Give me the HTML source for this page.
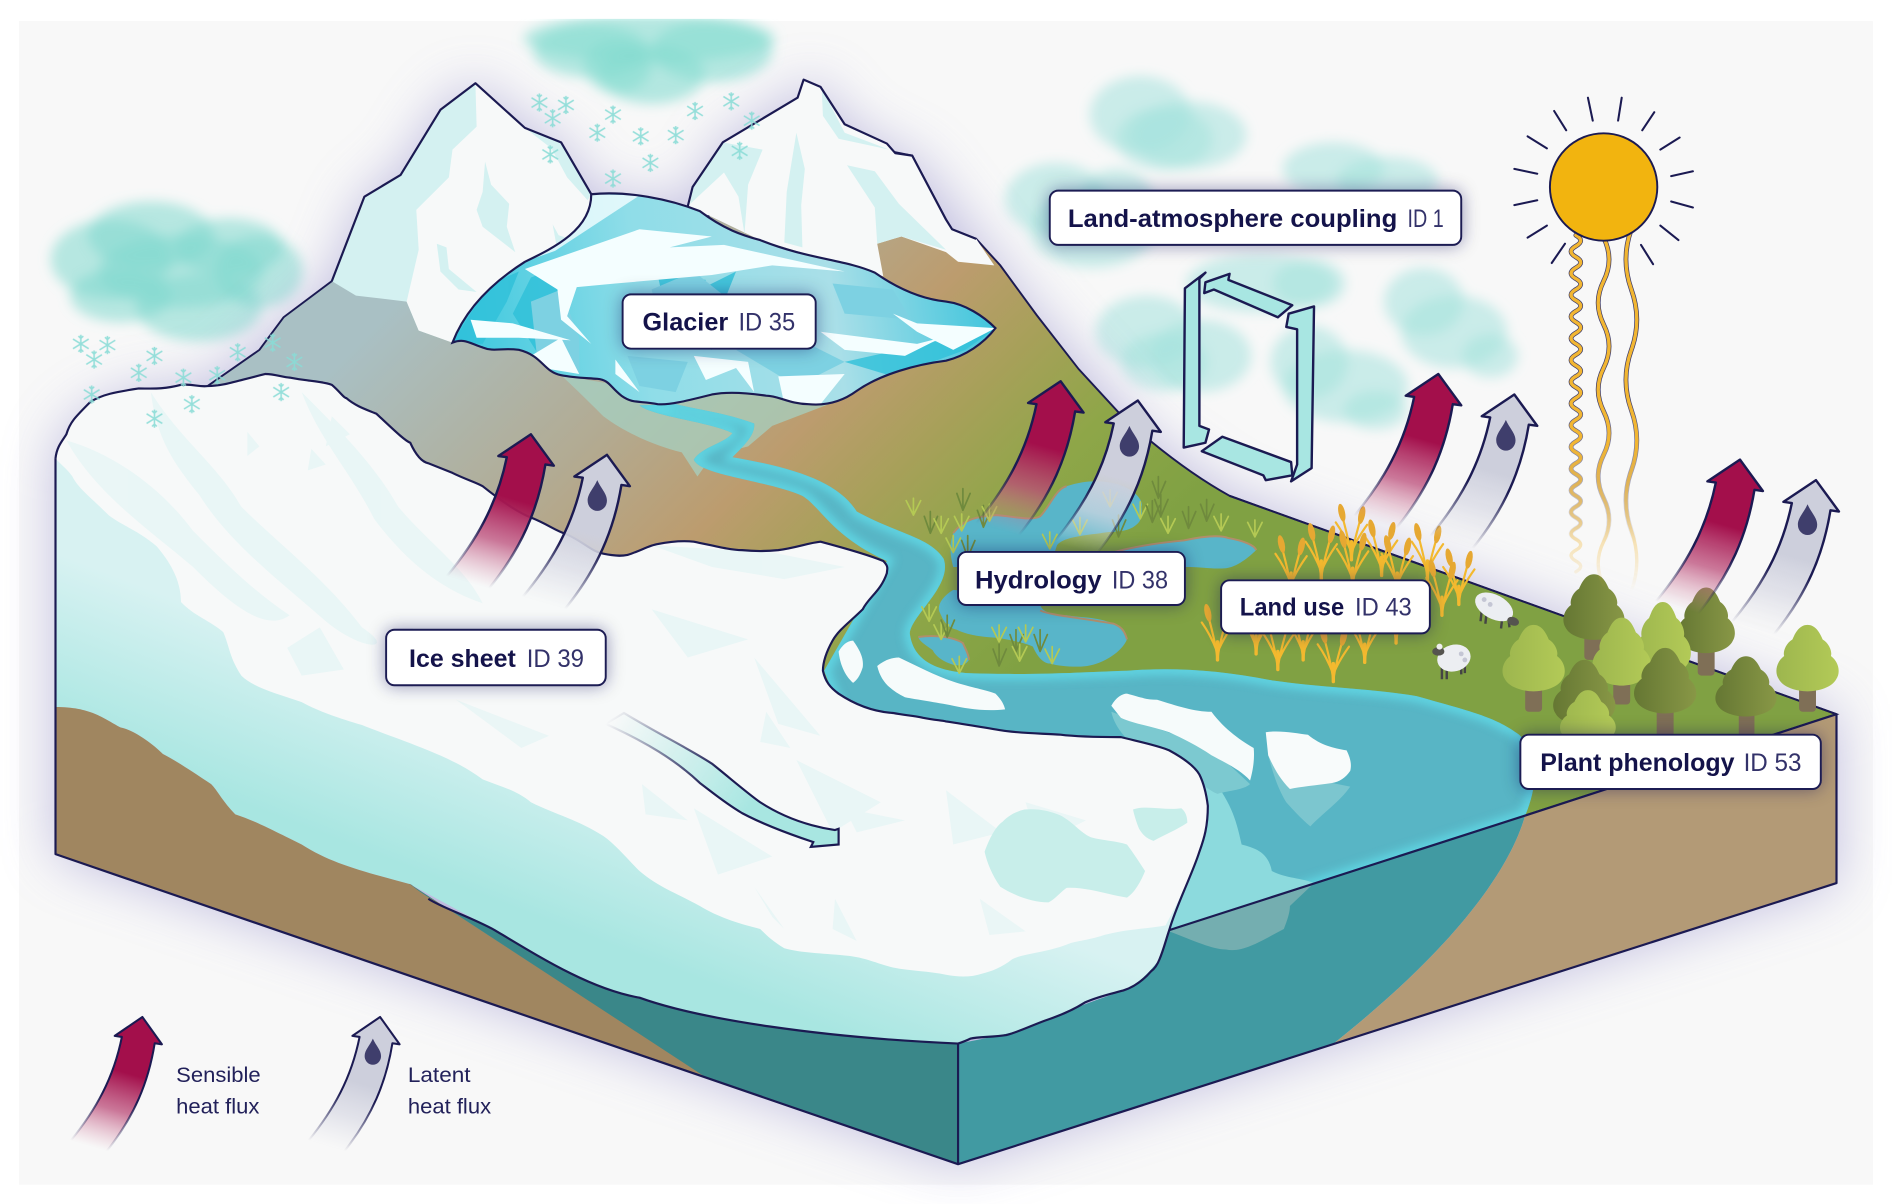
<!DOCTYPE html>
<html><head><meta charset="utf-8"><style>html,body{margin:0;padding:0;background:#fff}svg{display:block}</style></head><body>
<svg xmlns="http://www.w3.org/2000/svg" width="1892" height="1204" viewBox="0 0 1568 998" preserveAspectRatio="none" font-family="'Liberation Sans',sans-serif">
<defs>
<filter id="b22" x="-30%" y="-30%" width="160%" height="160%"><feGaussianBlur stdDeviation="22"/></filter>
<filter id="b5" x="-30%" y="-30%" width="160%" height="160%"><feGaussianBlur stdDeviation="5"/></filter>
<filter id="b4" x="-20%" y="-20%" width="140%" height="140%"><feGaussianBlur stdDeviation="4"/></filter>
<filter id="sh" x="-20%" y="-50%" width="140%" height="200%"><feDropShadow dx="0" dy="0" stdDeviation="7" flood-color="#1b1a52" flood-opacity=".4"/></filter>
<linearGradient id="terr" gradientUnits="userSpaceOnUse" x1="200" y1="200" x2="700" y2="700">
<stop offset=".18" stop-color="#a9c0c4"/><stop offset=".45" stop-color="#b2ab93"/><stop offset=".62" stop-color="#bc9c6e"/><stop offset=".73" stop-color="#a8a05a"/><stop offset=".86" stop-color="#8ea648"/><stop offset="1" stop-color="#80a143"/></linearGradient>
<linearGradient id="iceSide" gradientUnits="userSpaceOnUse" x1="0" y1="440" x2="-50" y2="570"><stop offset="0" stop-color="#d8f2f2"/><stop offset="1" stop-color="#a8e6e1"/></linearGradient>
<linearGradient id="gl" gradientUnits="userSpaceOnUse" x1="375" y1="290" x2="825" y2="230"><stop offset="0" stop-color="#38c7de"/><stop offset=".35" stop-color="#8fdde8"/><stop offset=".7" stop-color="#a9dfe8"/><stop offset="1" stop-color="#3cc4dc"/></linearGradient>
<linearGradient id="redG" gradientUnits="userSpaceOnUse" x1="0" y1="0" x2="-36.400" y2="127.200"><stop offset=".42" stop-color="#a30f4b"/><stop offset=".7" stop-color="#bb4b78" stop-opacity=".75"/><stop offset="1" stop-color="#d58aa6" stop-opacity="0"/></linearGradient>
<linearGradient id="greyG" gradientUnits="userSpaceOnUse" x1="0" y1="0" x2="-36.400" y2="127.200"><stop offset=".5" stop-color="#cdcfdc"/><stop offset=".75" stop-color="#d8d9e4" stop-opacity=".7"/><stop offset="1" stop-color="#dfe0e8" stop-opacity="0"/></linearGradient>
<linearGradient id="strk" gradientUnits="userSpaceOnUse" x1="0" y1="0" x2="-36.400" y2="127.200"><stop offset=".6" stop-color="#1b1a52"/><stop offset="1" stop-color="#1b1a52" stop-opacity="0"/></linearGradient>
<linearGradient id="wav" gradientUnits="userSpaceOnUse" x1="0" y1="370" x2="0" y2="490"><stop offset="0" stop-color="#f2b632"/><stop offset="1" stop-color="#f2b632" stop-opacity="0"/></linearGradient>
<linearGradient id="wavd" gradientUnits="userSpaceOnUse" x1="0" y1="330" x2="0" y2="450"><stop offset="0" stop-color="#1b1a52" stop-opacity=".85"/><stop offset="1" stop-color="#1b1a52" stop-opacity="0"/></linearGradient>
<linearGradient id="flow" gradientUnits="userSpaceOnUse" x1="510" y1="595" x2="620" y2="670"><stop offset="0" stop-color="#a8e6e1" stop-opacity="0"/><stop offset="1" stop-color="#a8e6e1"/></linearGradient>
<linearGradient id="flowS" gradientUnits="userSpaceOnUse" x1="505" y1="595" x2="590" y2="650"><stop offset="0" stop-color="#1b1a52" stop-opacity="0"/><stop offset="1" stop-color="#1b1a52"/></linearGradient>
<linearGradient id="tD"><stop offset="0" stop-color="#657733"/><stop offset="1" stop-color="#889746"/></linearGradient>
<linearGradient id="tL"><stop offset="0" stop-color="#9db64e"/><stop offset="1" stop-color="#b3ca57"/></linearGradient>
<path id="ar" d="M0 0L19 26L12 25C6 62-8 95-35 128L-70 118C-45 88-28 58-20 19L-27 18Z" stroke-width="2" stroke-linejoin="round"/>
<path id="drop" d="M0-13C3-6 8-2 8 4A8 8.500 0 0 1-8 4C-8-2-3-6 0-13Z" fill="#3f3e6c"/>
<g id="fl" stroke="#8adcd6" stroke-width="1.300" fill="none"><path d="M0-7.500V7.500M-6.500-4L6.500 4M6.500-4L-6.500 4M-2-6.500L0-4.500L2-6.500M-2 6.500L0 4.500L2 6.500"/></g>
<path id="tree" d="M0 0C6 0 9 8 11 14C16 18 18 26 17 30C23 36 24 46 21 52C18 60 8 64 0 64C-8 64-18 60-21 52C-24 46-23 36-17 30C-18 26-16 18-11 14C-9 8-6 0 0 0Z"/>
<g id="wh"><g fill="none" stroke="#f3b92f" stroke-width="1.800" stroke-linecap="round"><path d="M0 0C-1-12-5-26-7-34M0 0C1-12 5-24 7-32M0-6C-3-14-8-24-13-31M0-6C3-14 8-22 13-29"/><path d="M0 0V-15" stroke-width="2.800"/></g><g fill="#e6a832"><ellipse cx="-8" cy="-39" rx="2.700" ry="7.500" transform="rotate(-12 -8 -39)"/><ellipse cx="8.500" cy="-37" rx="2.700" ry="7.500" transform="rotate(12 8.500 -37)"/></g></g>
<g id="grD" fill="none" stroke="#6f8a3d" stroke-width="1.400" stroke-linecap="round"><path d="M0 0L-5-14M0 0L0-18M0 0L6-14"/></g>
<g id="grL" fill="none" stroke="#b4c954" stroke-width="1.400" stroke-linecap="round"><path d="M0 0L-6-12M0 0L0-14M0 0L6-12"/></g>
<clipPath id="cTop"><rect x="0" y="15.600" width="1568" height="983"/></clipPath>
<path id="wpath" d="M530 336C540 345 590 350 607 359C600 368 582 370 575 381C580 394 635 398 665 411C680 420 690 445 735 465L683 556L700 600L969 772L1264 676C1275 650 1275 625 1259 609C1240 595 1224 591 1174 577C1130 570 1104 571 1054 564C1010 555 970 553 934 556C900 557 860 560 802 558C780 556 757 550 754 525C755 510 790 485 782 463C770 445 745 443 710 424C695 400 660 388 607 379C618 368 626 360 625 351C600 342 580 340 560 335Z"/>
<clipPath id="cW"><use href="#wpath"/></clipPath>
<clipPath id="cGl"><path d="M375 284C385 258 405 236 435 217C460 205 490 190 490 161C520 158 555 165 580 175C600 190 615 195 630 199C670 215 700 215 725 226C745 240 765 248 784 250C800 252 815 262 825 272C815 285 800 295 784 299C760 302 730 310 710 324C695 335 680 336 670 335C655 335 645 328 635 328C615 325 600 325 590 327C570 332 555 336 545 335C530 332 525 335 515 328C505 320 505 315 495 314C480 313 475 313 465 311C450 308 450 295 430 290C415 288 410 292 400 288C390 285 385 280 375 284Z"/></clipPath>
</defs>
<rect width="1568" height="998" fill="#fff"/>
<rect x="15.700" y="17.500" width="1536.500" height="964.500" fill="#f8f8f8"/>

<!-- far clouds -->
<g fill="#a4e2dd" fill-opacity=".55" filter="url(#b5)">
<ellipse cx="945" cy="95" rx="42" ry="32"/><ellipse cx="985" cy="112" rx="48" ry="28"/><ellipse cx="965" cy="115" rx="40" ry="26"/>
<ellipse cx="875" cy="165" rx="42" ry="30"/><ellipse cx="905" cy="190" rx="52" ry="32"/><ellipse cx="925" cy="165" rx="30" ry="25"/>
<ellipse cx="1105" cy="140" rx="42" ry="22"/><ellipse cx="1150" cy="150" rx="42" ry="20"/>
<ellipse cx="1045" cy="235" rx="62" ry="24"/><ellipse cx="1085" cy="235" rx="30" ry="20"/>
<ellipse cx="950" cy="275" rx="42" ry="30"/><ellipse cx="995" cy="295" rx="42" ry="30"/><ellipse cx="965" cy="300" rx="36" ry="24"/>
<ellipse cx="1085" cy="300" rx="32" ry="30"/><ellipse cx="1115" cy="320" rx="52" ry="30"/><ellipse cx="1140" cy="340" rx="26" ry="16"/>
<ellipse cx="1180" cy="250" rx="33" ry="28"/><ellipse cx="1205" cy="275" rx="44" ry="30"/><ellipse cx="1235" cy="295" rx="23" ry="18"/></g>
<g clip-path="url(#cTop)"><g fill="#86dcd1" fill-opacity=".6" filter="url(#b5)"><ellipse cx="538" cy="32" rx="104" ry="20"/><ellipse cx="490" cy="42" rx="48" ry="22"/><ellipse cx="590" cy="42" rx="50" ry="26"/><ellipse cx="540" cy="62" rx="44" ry="24"/><ellipse cx="512" cy="55" rx="28" ry="22"/></g></g>
<g fill="#7fd8ce" fill-opacity=".55" filter="url(#b5)"><ellipse cx="92" cy="215" rx="50" ry="33"/><ellipse cx="125" cy="195" rx="52" ry="28"/><ellipse cx="190" cy="205" rx="45" ry="24"/><ellipse cx="215" cy="225" rx="36" ry="30"/><ellipse cx="165" cy="255" rx="52" ry="28"/><ellipse cx="100" cy="245" rx="42" ry="22"/><ellipse cx="150" cy="225" rx="68" ry="30"/></g>

<!-- halo -->
<path d="M46 380C60 330 120 320 172 320L275 233L302 163L332 145L365 91L394 69L435 106L465 118L490 161L570 171L599 118L661 81L666 66L680 72L700 103L742 127L756 129L809 198L859 261L954 366L1019 411L1522 592V732L794 965L46 708Z" fill="#a9a4d6" opacity=".7" filter="url(#b22)"/>

<!-- terrain -->
<path d="M172 320L215 290L235 263L275 233L394 195L570 195L661 110L756 129L784 182L789 190L809 198L829 220L859 261L894 306L929 344L954 366C965 375 990 395 1019 411L1522 592L969 772L340 733L172 330Z" fill="url(#terr)" stroke="#1b1a52" stroke-width="1.600"/>

<!-- meltwater -->
<path d="M465 311C480 325 490 335 500 345C520 360 545 370 565 375L578 395L590 378L620 370L640 353L700 330L710 324L545 325Z" fill="#a5d3c4" opacity=".7"/>

<!-- water -->
<use href="#wpath" fill="#58b5c5"/>
<g clip-path="url(#cW)"><use href="#wpath" fill="none" stroke="#62dbe8" stroke-width="9" filter="url(#b4)" opacity=".9"/>
<path d="M1001 640C1020 665 1024 677 1029 700C1040 703 1051 706 1054 722C1065 728 1080 728 1089 732L969 772L975 640Z" fill="#8cdadd"/></g>

<!-- ponds -->
<g fill="#58b5c9">
<path d="M790 442C800 428 815 428 826 427C840 428 855 432 862 428C870 420 875 405 884 403C900 398 912 398 925 401C940 405 948 415 946 420C947 430 945 433 939 437C930 442 920 440 912 442C895 444 880 446 876 452L870 470L790 470C786 455 788 448 790 442Z"/>
<path d="M922 458C940 453 960 450 981 448C995 445 1010 443 1018 446C1030 448 1040 452 1041 456C1035 462 1025 470 1016 471C1005 472 995 470 986 470L960 470Z"/>
<path d="M790 489C780 495 776 503 779 508C782 515 785 520 793 522C805 528 820 528 829 529C845 532 852 534 856 536C860 545 865 550 870 550C880 553 895 553 901 552C915 550 930 540 934 530C932 522 928 519 923 517C908 511 895 512 884 510C870 510 862 506 862 500L800 490Z"/>
<path d="M761 528C775 526 790 528 798 533C800 538 803 542 803 547C800 552 795 552 790 551C780 548 775 543 773 539C768 535 762 532 761 528Z"/></g>
<g fill="none" stroke="#b18e6c" stroke-width="1.600">
<path d="M790 442C800 428 815 428 826 427C840 428 855 432 862 428C870 420 875 405 884 403"/>
<path d="M922 458C940 453 960 450 981 448C995 445 1010 443 1018 446C1030 448 1040 452 1041 456"/>
<path d="M862 506C870 510 895 512 923 517C928 519 932 522 934 530"/>
<path d="M761 528C775 526 790 528 798 533C800 538 803 542 803 547"/></g>

<!-- grass -->
<g>
<use href="#grL" x="757" y="427"/><use href="#grD" x="771" y="442"/><use href="#grL" x="780" y="442"/><use href="#grD" x="798" y="423"/><use href="#grL" x="797" y="440"/><use href="#grD" x="815" y="437"/><use href="#grL" x="820" y="432"/><use href="#grL" x="790" y="458"/><use href="#grD" x="802" y="462"/><use href="#grL" x="920" y="420"/><use href="#grL" x="945" y="430"/><use href="#grD" x="955" y="433"/><use href="#grD" x="960" y="413"/><use href="#grD" x="962" y="428"/><use href="#grL" x="968" y="442"/><use href="#grD" x="985" y="438"/><use href="#grD" x="1000" y="432"/><use href="#grL" x="1012" y="440"/><use href="#grL" x="1040" y="445"/><use href="#grL" x="895" y="443"/><use href="#grD" x="927" y="445"/><use href="#grL" x="870" y="455"/><use href="#grL" x="770" y="515"/><use href="#grL" x="780" y="530"/><use href="#grD" x="785" y="528"/><use href="#grL" x="795" y="558"/><use href="#grL" x="828" y="532"/><use href="#grD" x="842" y="540"/><use href="#grL" x="850" y="532"/><use href="#grD" x="862" y="540"/><use href="#grL" x="872" y="550"/><use href="#grL" x="845" y="548"/><use href="#grD" x="828" y="552"/>
</g>

<!-- mountains -->
<path d="M275 233L302 163L332 145L365 91L394 69L435 106L465 118L490 161C492 180 480 195 450 210L400 250L375 284L347 274L337 250L295 245Z" fill="#d4f1f1"/>
<path d="M394 69L395 105L375 124L372 147L345 174L347 207L337 250L347 274L375 284C385 258 405 236 435 217C460 205 490 190 490 161L487 166L470 147L457 123L435 106Z" fill="#f7f9f9"/>
<path d="M402 134L407 153L422 169L420 188L427 209L400 188L395 174L400 159Z M362 202L370 205L372 223L395 242L380 240L365 225Z M458 186L463 195L472 198L462 208Z" fill="#d4f1f1"/>
<path d="M275 233L302 163L332 145L365 91L394 69L435 106L465 118L490 161" fill="none" stroke="#1b1a52" stroke-width="1.800" stroke-linejoin="round"/>
<path d="M570 171L574 155L599 118L661 81L666 66L680 72L700 103L735 119L742 127L756 129L784 182L789 190L809 198L824 220L794 217L784 209L747 196L727 202L732 229L700 220L630 199L580 175Z" fill="#f7f9f9"/>
<path d="M681 73L700 110L737 124L695 115L682 96ZM660 110L667 140L664 170L665 205L650 201L652 159ZM702 137L725 142L745 169L784 207L747 196L727 202L725 172ZM599 118L632 124L620 153L617 194L612 163L600 143L572 169L574 155Z" fill="#d4f1f1"/>
<path d="M570 171L574 155L599 118L661 81L666 66L680 72L700 103L735 119L742 127L756 129L784 182L789 190L809 198" fill="none" stroke="#1b1a52" stroke-width="1.800" stroke-linejoin="round"/>

<!-- glacier -->
<g clip-path="url(#cGl)">
<rect x="370" y="155" width="460" height="185" fill="url(#gl)"/>
<g fill="#2fc0d9" opacity=".8"><path d="M375 284L405 236L430 225L420 250L400 285Z"/><path d="M440 230L480 215L465 255L450 300L425 260Z"/><path d="M570 245L610 225L600 250L590 290L570 280Z"/><path d="M700 300L825 272L800 290L740 312Z"/><path d="M545 228L585 232L575 250L550 250Z"/></g>
<g fill="#7dd1e2"><path d="M440 250L465 240L480 280L480 310L445 295Z"/><path d="M540 240L575 225L600 245L590 260L545 260Z"/><path d="M610 290L660 280L700 300L660 320Z"/><path d="M690 235L740 240L755 265L700 260Z"/><path d="M520 295L570 300L560 325L530 320Z"/></g>
<g fill="#f4feff"><path d="M435 223L530 190L590 196L555 205L600 203L700 225L640 220L590 228L510 235L478 238L470 262L490 285L465 265L462 240Z"/>
<path d="M390 265L425 268L473 282L430 280L395 280Z"/><path d="M440 295L465 280L480 310L450 305Z"/><path d="M575 295L620 300L625 325L610 305L585 315Z"/><path d="M645 312L700 310L680 335L650 335Z"/><path d="M680 275L760 285L780 280L750 295L700 290Z"/><path d="M740 260L760 268L825 272L790 290L760 275Z"/><path d="M490 161L530 162L460 208L440 215Z" opacity=".8"/><path d="M510 298L530 325L510 310Z"/></g>
</g>
<path d="M375 284C385 258 405 236 435 217C460 205 490 190 490 161C520 158 555 165 580 175C600 190 615 195 630 199C670 215 700 215 725 226C745 240 765 248 784 250C800 252 815 262 825 272C815 285 800 295 784 299C760 302 730 310 710 324C695 335 680 336 670 335C655 335 645 328 635 328C615 325 600 325 590 327C570 332 555 336 545 335C530 332 525 335 515 328C505 320 505 315 495 314C480 313 475 313 465 311C450 308 450 295 430 290C415 288 410 292 400 288C390 285 385 280 375 284Z" fill="none" stroke="#1b1a52" stroke-width="1.800"/>

<!-- icebergs -->
<path d="M921 590C925 610 950 630 962 620C985 640 1000 655 1009 658C1020 655 1030 655 1036 650L1004 620Z" fill="#7cc9d0"/>
<path d="M1051 626C1056 645 1060 655 1066 665C1075 675 1080 680 1086 685C1095 675 1110 665 1119 652L1104 649Z" fill="#7cc6cf"/>
<path d="M921 585C925 578 930 575 934 575C945 578 950 580 959 580C975 585 990 590 1004 590C1015 605 1030 615 1039 620C1040 630 1038 640 1036 647C1028 638 1015 632 1004 626C992 618 980 612 969 607C955 602 940 600 929 595Z" fill="#f6fbfb"/>
<path d="M1049 607C1060 605 1075 608 1084 609C1095 618 1105 620 1116 622C1120 630 1120 635 1119 639C1115 645 1110 648 1104 649C1090 651 1078 652 1069 654C1060 645 1055 635 1051 626Z" fill="#f8fbfb"/>
<path d="M727 552C732 548 738 545 745 545C760 552 775 560 790 565C805 570 818 572 825 575C830 580 832 584 833 588C815 590 800 587 790 585C775 582 760 580 750 578C738 572 730 565 727 552Z" fill="#f6fbfb"/>
<path d="M695 540C698 535 702 531 707 531C712 538 716 545 715 553C713 560 710 564 707 566C700 560 696 550 695 540Z" fill="#f6fbfb"/>

<!-- ice sheet -->
<path d="M46 708V380C47 370 52 365 55 360C58 350 62 346 75 333C85 327 95 325 115 322C125 322 135 323 150 319C160 318 165 321 172 320C185 320 195 316 220 310C228 310 235 313 240 313C255 316 268 316 275 319C282 325 285 330 287 330C295 337 305 340 312 343C325 355 335 365 340 367C345 378 350 383 355 384C365 388 370 390 375 392C385 397 395 400 400 403C415 415 430 425 440 429C455 435 460 440 470 443C485 450 490 457 500 459C510 461 515 461 520 460C530 457 538 452 545 451C555 449 565 448 575 449C590 452 605 456 615 456C625 457 635 457 645 456C660 454 670 450 680 449C695 453 720 460 732 465C737 470 735 472 735 475C730 490 720 495 715 505C705 515 695 522 690 531C685 540 682 548 682 556C684 565 688 570 695 575C710 585 725 590 740 591C750 593 757 593 765 595C775 597 780 597 784 598C805 601 820 604 834 606C850 608 865 608 879 609C895 611 915 611 929 611C945 615 960 618 969 622C980 628 990 635 994 642C998 650 1000 660 1001 668C1001 685 998 695 994 706C988 725 975 750 969 771C966 780 964 788 961 795C959 800 957 803 954 805C948 812 940 818 931 821C920 824 910 826 899 831C888 838 875 843 866 846C855 850 845 855 834 858C822 860 812 859 804 861C800 863 797 864 794 865C600 860 480 830 410 771L340 733C300 722 275 716 250 700C220 685 210 680 195 675C185 665 180 655 175 650C160 640 145 630 135 625C125 615 110 605 100 603C85 595 75 586 46 586Z" fill="url(#iceSide)"/>
<path d="M46 380C47 370 52 365 55 360C58 350 62 346 75 333C85 327 95 325 115 322C125 322 135 323 150 319C160 318 165 321 172 320C185 320 195 316 220 310C228 310 235 313 240 313C255 316 268 316 275 319C282 325 285 330 287 330C295 337 305 340 312 343C325 355 335 365 340 367C345 378 350 383 355 384C365 388 370 390 375 392C385 397 395 400 400 403C415 415 430 425 440 429C455 435 460 440 470 443C485 450 490 457 500 459C510 461 515 461 520 460C530 457 538 452 545 451C555 449 565 448 575 449C590 452 605 456 615 456C625 457 635 457 645 456C660 454 670 450 680 449C695 453 720 460 732 465C737 470 735 472 735 475C730 490 720 495 715 505C705 515 695 522 690 531C685 540 682 548 682 556C684 565 688 570 695 575C710 585 725 590 740 591C750 593 757 593 765 595C775 597 780 597 784 598C805 601 820 604 834 606C850 608 865 608 879 609C895 611 915 611 929 611C945 615 960 618 969 622C980 628 990 635 994 642C998 650 1000 660 1001 668C1001 685 998 695 994 706C988 725 975 750 966 767C950 770 934 770 915 775C900 780 890 780 884 783C865 790 850 790 839 795C830 802 822 805 814 807C805 810 795 810 784 808C770 805 755 805 740 802C725 798 715 793 700 792C680 790 665 790 650 786C640 780 635 775 630 770C610 765 595 760 580 751C560 740 545 735 530 722C518 710 510 700 500 693C480 680 460 675 440 665C428 655 415 652 400 646C385 635 370 628 350 620C330 612 315 607 300 601C280 595 265 590 250 582C230 575 210 570 200 560C190 545 190 535 185 524C175 515 160 510 150 499C150 480 140 465 130 453C115 440 100 435 90 427C75 412 65 405 60 395C55 388 50 385 46 380Z" fill="#f7f9f9"/>
<g fill="#e4f5f5" opacity=".7">
<path d="M55 365C90 375 130 400 160 440C185 465 210 490 240 510C220 525 190 500 160 470C125 440 80 410 55 365Z"/>
<path d="M125 325C150 365 180 385 200 420C230 450 270 480 300 520C330 540 300 540 270 515C230 480 190 450 165 410C145 385 130 365 125 325Z"/>
<path d="M250 325C285 360 310 385 330 420C355 450 385 470 400 500C370 490 340 470 310 430C290 390 265 365 250 325Z"/>
<path d="M540 452L640 458L700 470L650 480L590 470Z"/>
<path d="M238 537L265 520L285 555L250 560Z"/><path d="M378 580L432 620L455 610Z"/><path d="M540 505L620 530L570 545Z"/><path d="M625 545L680 610L645 600Z"/><path d="M532 650L570 680L535 675Z"/><path d="M575 670L640 710L595 725Z"/><path d="M635 590L655 620L630 615Z"/><path d="M660 630L730 665L690 690Z"/><path d="M700 670L750 680L710 690Z"/><path d="M625 735L650 770L640 760Z"/><path d="M692 745L710 780L690 770Z"/><path d="M812 745L850 772L820 775Z"/><path d="M784 655L830 690L790 700Z"/><path d="M850 665L900 680L860 700Z"/>
<path d="M275 345L290 360L270 370Z"/><path d="M205 358L215 370L205 378Z"/><path d="M258 372L270 385L255 390Z"/><path d="M110 405L120 420L108 425Z"/>
</g>
<path d="M816 706C820 695 825 685 831 681C838 674 845 672 849 671C860 670 870 672 879 676C890 682 895 690 904 694C915 697 925 697 934 700C940 708 945 716 949 722C945 732 940 740 934 744C920 742 900 735 884 736C878 740 875 745 869 748C855 748 840 742 829 735C822 725 818 715 816 706Z M939 671C950 667 965 672 979 670C983 673 984 678 984 682C975 688 965 692 956 697C950 695 947 692 944 687C942 682 940 676 939 671Z" fill="#c8eeea"/>

<!-- block faces -->
<path d="M46 586C75 586 85 595 100 603C110 605 125 615 135 625C145 630 160 640 175 650C180 655 185 665 195 675C210 680 220 685 250 700C275 716 300 722 340 733L586 893L46 708Z" fill="#a08660"/>
<path d="M340 733C360 750 390 760 410 771C450 795 490 820 530 827C580 845 680 860 794 865V965L585 893Z" fill="#3a8789"/>
<path d="M794 865C820 860 850 855 866 846C890 835 920 825 931 821C945 815 955 803 961 795L969 771L1264 676C1250 725 1200 790 1104 866L794 965Z" fill="#419aa2"/>
<path d="M1264 676L1522 592V732L1104 866C1200 790 1250 725 1264 676Z" fill="#b39a76"/>
<path d="M969 772C990 780 1005 787 1016 787C1030 790 1045 780 1064 770C1068 760 1069 755 1069 751L1089 732Z" fill="#74aeb0"/>
<path d="M46 380V708L794 965L1522 732V592" fill="none" stroke="#1b1a52" stroke-width="1.800" stroke-linejoin="round"/>
<path d="M794 865V965M969 771L1264 676L1522 592" fill="none" stroke="#1b1a52" stroke-width="1.800"/>
<path d="M1019 411L1522 592" fill="none" stroke="#1b1a52" stroke-width="1.600"/>
<path d="M46 380C47 370 52 365 55 360C58 350 62 346 75 333C85 327 95 325 115 322C125 322 135 323 150 319C160 318 165 321 172 320C185 320 195 316 220 310C228 310 235 313 240 313C255 316 268 316 275 319C282 325 285 330 287 330C295 337 305 340 312 343C325 355 335 365 340 367C345 378 350 383 355 384C365 388 370 390 375 392C385 397 395 400 400 403C415 415 430 425 440 429C455 435 460 440 470 443C485 450 490 457 500 459C510 461 515 461 520 460C530 457 538 452 545 451C555 449 565 448 575 449C590 452 605 456 615 456C625 457 635 457 645 456C660 454 670 450 680 449C695 453 720 460 732 465C737 470 735 472 735 475C730 490 720 495 715 505C705 515 695 522 690 531C685 540 682 548 682 556C684 565 688 570 695 575C710 585 725 590 740 591C750 593 757 593 765 595C775 597 780 597 784 598C805 601 820 604 834 606C850 608 865 608 879 609C895 611 915 611 929 611C945 615 960 618 969 622C980 628 990 635 994 642C998 650 1000 660 1001 668C1001 685 998 695 994 706C988 725 975 750 969 771C966 780 964 788 961 795C959 800 957 803 954 805C948 812 940 818 931 821C920 824 910 826 899 831C888 838 875 843 866 846C855 850 845 855 834 858C822 860 812 859 804 861C800 863 797 864 794 865C680 860 580 845 530 827C490 820 450 795 410 771C390 760 365 752 355 745" fill="none" stroke="#1b1a52" stroke-width="1.800"/>

<!-- wheat -->
<use href="#wh" x="1120" y="464"/><use href="#wh" x="1095" y="480"/><use href="#wh" x="1070" y="490"/><use href="#wh" x="1145" y="477"/><use href="#wh" x="1183" y="480"/><use href="#wh" x="1209" y="501"/><use href="#wh" x="1121" y="486"/><use href="#wh" x="1158" y="490"/><use href="#wh" x="1009" y="547"/><use href="#wh" x="1041" y="542"/><use href="#wh" x="1059" y="555"/><use href="#wh" x="1080" y="547"/><use href="#wh" x="1105" y="565"/><use href="#wh" x="1131" y="549"/><use href="#wh" x="1157" y="533"/><use href="#wh" x="1195" y="510"/>

<!-- sheep -->
<g transform="translate(1240 504)"><path d="M-12 2l-1 9M-8 4l-1 9M5 8l-1 9M10 8l1 8" stroke="#444" stroke-width="2"/><ellipse cx="-2" cy="0" rx="17" ry="10" fill="#eceef2" transform="rotate(28)"/><ellipse cx="14" cy="11" rx="5" ry="3.500" fill="#55544f" transform="rotate(20 14 11)"/><circle cx="-10" cy="-7" r="2" fill="#c4c6d4"/><circle cx="-5" cy="-3" r="2" fill="#c4c6d4"/></g>
<g transform="translate(1203 546)"><path d="M-8 5v12M-4 6v11M8 4v9M11 3v9" stroke="#444" stroke-width="2"/><ellipse cx="2" cy="0" rx="14" ry="11" fill="#eceef2" transform="rotate(-15)"/><ellipse cx="-11" cy="-6" rx="5" ry="3.500" fill="#55544f"/><circle cx="-10" cy="-10" r="2.500" fill="#eee"/><circle cx="8" cy="-4" r="2" fill="#c4c6d4"/><circle cx="11" cy="1" r="2" fill="#c4c6d4"/></g>

<!-- trees -->
<g fill="#7f6f56"><rect x="1313" y="520" width="14" height="27" rx="3"/><rect x="1264" y="565" width="14" height="25" rx="3"/><rect x="1337" y="560" width="14" height="24" rx="3"/><rect x="1407" y="532" width="14" height="28" rx="3"/><rect x="1373" y="580" width="14" height="32"/><rect x="1441" y="585" width="13" height="26"/><rect x="1491" y="565" width="14" height="25" rx="3"/></g>
<use href="#tree" transform="translate(1321 476) scale(1.120 .85)" fill="url(#tD)"/>
<use href="#tree" transform="translate(1414 487) scale(1.050 .85)" fill="url(#tD)"/>
<use href="#tree" transform="translate(1378 499) scale(1.030 .95)" fill="url(#tL)"/>
<use href="#tree" transform="translate(1271 518) scale(1.140 .86)" fill="url(#tL)"/>
<use href="#tree" transform="translate(1344 512) scale(1.070 .88)" fill="url(#tL)"/>
<use href="#tree" transform="translate(1313 547) scale(1.140 .85)" fill="url(#tD)"/>
<use href="#tree" transform="translate(1380 537) scale(1.140 .85)" fill="url(#tD)"/>
<use href="#tree" transform="translate(1447 544) scale(1.120 .78)" fill="url(#tD)"/>
<use href="#tree" transform="translate(1316 572) scale(1.020 .7)" fill="url(#tL)"/>
<use href="#tree" transform="translate(1498 518) scale(1.140 .86)" fill="url(#tL)"/>

<!-- snowflakes -->
<g opacity=".9"><use href="#fl" x="447" y="85"/><use href="#fl" x="469" y="87"/><use href="#fl" x="458" y="98"/><use href="#fl" x="508" y="95"/><use href="#fl" x="495" y="110"/><use href="#fl" x="531" y="113"/><use href="#fl" x="560" y="112"/><use href="#fl" x="576" y="92"/><use href="#fl" x="606" y="84"/><use href="#fl" x="623" y="100"/><use href="#fl" x="613" y="125"/><use href="#fl" x="456" y="128"/><use href="#fl" x="539" y="135"/><use href="#fl" x="508" y="148"/><use href="#fl" x="67" y="285"/><use href="#fl" x="89" y="286"/><use href="#fl" x="78" y="298"/><use href="#fl" x="128" y="295"/><use href="#fl" x="115" y="309"/><use href="#fl" x="152" y="313"/><use href="#fl" x="180" y="311"/><use href="#fl" x="197" y="292"/><use href="#fl" x="226" y="284"/><use href="#fl" x="244" y="300"/><use href="#fl" x="76" y="327"/><use href="#fl" x="159" y="335"/><use href="#fl" x="128" y="347"/><use href="#fl" x="233" y="325"/></g>

<!-- sun -->
<g fill="none" stroke-linecap="round">
<g stroke="url(#wavd)" stroke-width="4"><path d="M1306 195q8 4.500 0 9t0 9t0 9t0 9t0 9t0 9t0 9t0 9t0 9t0 9t0 9t0 9t0 9t0 9t0 9t0 9t0 9t0 9t0 9t0 9t0 9t0 9t0 9t0 9t0 9t0 9t0 9t0 9t0 9t0 9t0 9"/><path d="M1329 197q9 18 0 36t0 36t0 36t0 36t0 36t0 36t0 36t0 36"/><path d="M1352 190q-9 25 0 50t0 50t0 50t0 50t0 50t0 50"/></g>
<g stroke="url(#wav)" stroke-width="2.800"><path d="M1306 195q8 4.500 0 9t0 9t0 9t0 9t0 9t0 9t0 9t0 9t0 9t0 9t0 9t0 9t0 9t0 9t0 9t0 9t0 9t0 9t0 9t0 9t0 9t0 9t0 9t0 9t0 9t0 9t0 9t0 9t0 9t0 9t0 9"/><path d="M1329 197q9 18 0 36t0 36t0 36t0 36t0 36t0 36t0 36t0 36"/><path d="M1352 190q-9 25 0 50t0 50t0 50t0 50t0 50t0 50"/></g>
<path stroke="#1b1a52" stroke-width="1.700" d="M1316 81L1320 100M1344 81L1341 100M1288 92L1298 108M1371 93L1361 108M1266 113L1282 123M1392 114L1376 124M1255 140L1274 144M1403 142L1385 146M1255 170L1274 166M1403 172L1385 167M1266 197L1282 187M1391 199L1376 187M1286 218L1297 202M1370 219L1360 203"/>
</g>
<circle cx="1329" cy="155" r="44.500" fill="#f2b40f" stroke="#1b1a52" stroke-width="1.600"/>

<!-- coupling arrows -->
<g fill="#a8e6e2" stroke="#1b1a52" stroke-width="2" stroke-linejoin="round">
<path d="M999 226L982 239L981 371L999 367L1002 356L994 353L994 231Z"/>
<path d="M1089 254L1068 260L1066 271L1075 273L1075 385L1070 399L1087 388Z"/>
<path d="M1019 227L999 234L998 243L1006 240L1059 263L1071 253L1018 232Z"/>
<path d="M1013 362L996 374L1047 394L1049 398L1071 394L1070 383Z"/>
</g>

<!-- ice flow arrow -->
<path d="M517 591C545 608 570 620 590 633C605 645 620 658 630 665C650 678 672 685 692 688L695 687V700L672 702L674 698C650 690 630 682 615 674C600 665 592 658 580 649C560 630 535 615 502 600Z" fill="url(#flow)" stroke="url(#flowS)" stroke-width="1.800"/>

<!-- flux arrows -->
<g>
<use href="#ar" transform="translate(440 360)" fill="url(#redG)" stroke="url(#strk)"/>
<use href="#ar" transform="translate(503 377)" fill="url(#greyG)" stroke="url(#strk)"/><use href="#drop" x="495" y="411"/>
<use href="#ar" transform="translate(879 316)" fill="url(#redG)" stroke="url(#strk)"/>
<use href="#ar" transform="translate(943 332)" fill="url(#greyG)" stroke="url(#strk)"/><use href="#drop" x="936" y="366"/>
<use href="#ar" transform="translate(1192 310)" fill="url(#redG)" stroke="url(#strk)"/>
<use href="#ar" transform="translate(1255 327)" fill="url(#greyG)" stroke="url(#strk)"/><use href="#drop" x="1248" y="361"/>
<use href="#ar" transform="translate(1442 381)" fill="url(#redG)" stroke="url(#strk)"/>
<use href="#ar" transform="translate(1505 398)" fill="url(#greyG)" stroke="url(#strk)"/><use href="#drop" x="1498" y="431"/>
<use href="#ar" transform="translate(118 843) scale(.85 .87)" fill="url(#redG)" stroke="url(#strk)"/>
<use href="#ar" transform="translate(315 843) scale(.85 .87)" fill="url(#greyG)" stroke="url(#strk)"/><use href="#drop" transform="translate(309 872) scale(.85)"/>
</g>

<!-- labels -->
<g fill="#fff" stroke="#1b1a52" stroke-width="1.600" filter="url(#sh)">
<rect x="870" y="158" width="341" height="45" rx="7"/>
<rect x="516" y="244" width="160" height="45" rx="7"/>
<rect x="320" y="522" width="182" height="46" rx="7"/>
<rect x="794" y="457.500" width="188" height="44" rx="7"/>
<rect x="1012" y="481" width="173" height="44" rx="7"/>
<rect x="1260" y="609" width="249" height="45" rx="7"/>
</g>
<g fill="#14134a" font-size="21">
<g font-weight="700">
<text x="885" y="188" textLength="273" lengthAdjust="spacingAndGlyphs">Land-atmosphere coupling</text>
<text x="532.500" y="274" textLength="71" lengthAdjust="spacingAndGlyphs">Glacier</text>
<text x="339" y="553" textLength="88.500" lengthAdjust="spacingAndGlyphs">Ice sheet</text>
<text x="808" y="488" textLength="105" lengthAdjust="spacingAndGlyphs">Hydrology</text>
<text x="1027.500" y="510" textLength="86.500" lengthAdjust="spacingAndGlyphs">Land use</text>
<text x="1276.500" y="639" textLength="161" lengthAdjust="spacingAndGlyphs">Plant phenology</text>
</g>
<g fill="#33326a">
<text x="1166.500" y="188" textLength="30" lengthAdjust="spacingAndGlyphs">ID 1</text>
<text x="612" y="274" textLength="47" lengthAdjust="spacingAndGlyphs">ID 35</text>
<text x="436.500" y="553" textLength="47.500" lengthAdjust="spacingAndGlyphs">ID 39</text>
<text x="921.500" y="488" textLength="46.500" lengthAdjust="spacingAndGlyphs">ID 38</text>
<text x="1123" y="510" textLength="47" lengthAdjust="spacingAndGlyphs">ID 43</text>
<text x="1445" y="639" textLength="48" lengthAdjust="spacingAndGlyphs">ID 53</text>
</g></g>
<g fill="#22215a" font-size="18">
<text x="146" y="897" textLength="70" lengthAdjust="spacingAndGlyphs">Sensible</text>
<text x="146" y="923" textLength="69" lengthAdjust="spacingAndGlyphs">heat flux</text>
<text x="338" y="897" textLength="52" lengthAdjust="spacingAndGlyphs">Latent</text>
<text x="338" y="923" textLength="69" lengthAdjust="spacingAndGlyphs">heat flux</text>
</g>
</svg>
</body></html>
